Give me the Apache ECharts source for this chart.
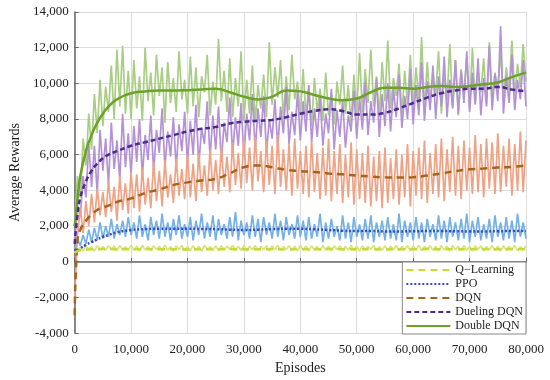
<!DOCTYPE html>
<html><head><meta charset="utf-8">
<script src="https://cdn.jsdelivr.net/npm/echarts@6/dist/echarts.min.js"></script>
<style>html,body{margin:0;padding:0;background:#fff}#c{width:550px;height:380px}</style>
</head><body><div id="c"></div>
<script>
// Raw episodes: every 500 episodes from 0 to 80000
var rawStep = 500;
var rawDouble = [2000,4800,3600,6900,5400,8300,6300,9400,7200,10200,7600,9800,8400,11000,8000,11900,8700,12100,8300,10700,8000,
11300,8600,10400,7900,12000,9000,10600,8200,11600,9300,10900,7800,11200,8900,10300,8400,11800,9100,10200,8300,
11500,8700,10900,8100,10400,9500,11600,8200,10100,8800,12500,9000,10700,8400,11400,8100,10300,8700,11800,7900,
10200,8300,11000,7800,9900,8600,10500,8100,12300,8800,10900,9200,11300,8000,10400,8500,11600,9100,10100,8200,
10800,8100,9800,7600,10300,8400,9700,7900,10600,8200,9500,7700,10100,8800,11000,8300,9900,7800,10500,8300,
11700,8400,10800,8900,11900,8700,10400,8100,11200,9000,12400,8600,10300,9300,11100,8200,10700,8800,11600,8500,
10900,9100,12600,8400,11200,8800,10500,9400,11800,8300,10600,9000,12200,8700,11300,8200,10800,9300,11500,8600,
12000,8900,10700,9500,11400,8800,12300,9200,10600,9700,11800,9000,10900,9600,12400,9300,11100,9800,12200,10100];
var rawDueling = [1000,3200,2500,4800,3600,6600,4200,6500,3800,7400,5100,6900,4300,7800,5200,6800,4600,8300,5300,7200,4900,
7600,5600,8000,4800,7100,5700,8200,5000,7400,6100,8600,5300,7300,5900,8100,5200,7700,6200,8400,5500,
7900,6000,8800,5400,7500,6600,9000,5800,8200,6300,8700,5600,7800,6700,9200,6000,8100,6500,8900,5900,
8300,6800,9400,6200,8600,7000,9300,6100,8000,6900,9100,6400,8700,7200,9800,6600,8400,7100,9500,6800,
9000,7300,9900,6700,8600,7000,9200,6500,8300,7200,9700,6300,8500,7000,9100,6400,8200,7300,9600,6900,
9200,7400,10100,7100,9000,7800,10300,7000,9400,7600,10000,7300,9700,8100,10500,7500,9300,8000,10800,7700,
9900,8200,11200,7900,10100,8500,11000,8000,10400,8700,11500,8100,10200,8600,11300,8300,10700,8900,11800,8400,
10600,8800,11400,8200,10300,8700,12100,8500,10500,9000,13200,8300,10400,8900,11600,8500,10200,9100,11300,8700];
var rawDQN = [-2000,1500,3000,1600,3400,2000,3800,2200,4100,2600,3900,2500,4500,2800,4200,2300,4800,2900,4400,2700,5000,
3000,4900,2800,5300,3200,4700,3000,5600,3400,5100,3100,5700,3600,4900,3300,5800,3700,5200,3500,6000,
3600,5500,3400,6100,3900,5400,3700,6300,4000,5700,3800,6500,4200,5900,3900,6700,4300,6100,4100,6900,
4400,6400,4000,7000,4500,6200,3900,6800,4300,6500,3800,7100,4200,6300,4000,6600,3700,6900,4100,6200,
3800,6500,3600,6800,3900,6100,3500,6400,3700,6900,3400,6200,3800,6600,3300,6000,3600,6700,3200,6300,
3500,6100,3300,6500,3100,5900,3400,6200,3000,6400,3300,5800,3500,6300,3200,6000,3600,6600,3100,6200,
3700,6400,3500,6800,3300,6100,3800,6600,3600,6900,3400,6300,3900,7000,3700,6500,3500,6800,4000,6400,
3800,7100,3900,6600,3600,6900,4100,6700,3800,7200,3900,6500,4200,6900,3700,6600,4000,7300,3900,6800];
var rawPPO = [700,1300,900,1500,1000,1800,1100,1900,1200,2200,1300,2000,1400,2400,1300,2100,1500,2300,1400,2500,1500,
2200,1300,2600,1400,2100,1200,2500,1500,2300,1300,2700,1400,2200,1200,2400,1500,2600,1300,2100,1400,
2500,1200,2300,1500,2700,1300,2200,1400,2600,1200,2400,1500,2100,1300,2500,1400,2800,1200,2300,1500,
2200,1300,2600,1400,2400,1100,2500,1500,2200,1300,2700,1400,2300,1200,2500,1500,2100,1300,2600,1400,
2300,1200,2500,1300,2100,1400,2700,1100,2200,1300,2400,1400,2000,1200,2600,1300,2200,1100,2500,1400,
2100,1200,2400,1300,2600,1100,2200,1400,2300,1200,2500,1300,2100,1200,2700,1100,2300,1400,2200,1200,
2500,1300,2200,1100,2400,1400,2100,1200,2600,1300,2300,1100,2500,1400,2200,1200,2400,1300,2700,1100,
2300,1400,2500,1200,2100,1300,2400,1100,2600,1400,2200,1200,2500,1300,2300,1100,2700,1400,2200,1300];
var rawQ = [500,600,800,600,900,700,850,600,900,700,850,650,900,700,880,620,900,680,850,650,920,
640,880,600,910,660,850,610,900,680,870,620,930,650,860,600,890,670,910,640,850,
620,900,660,870,600,920,680,850,630,890,610,900,650,870,690,920,620,860,640,900,
600,880,660,910,630,850,670,900,610,890,650,930,620,860,680,900,640,870,610,910,
650,880,600,900,670,860,630,920,640,870,610,890,680,900,620,850,660,910,630,880,
600,900,650,870,690,920,620,860,640,900,610,880,660,910,630,850,670,900,610,890,
650,930,620,860,680,900,640,870,610,910,650,880,600,900,670,860,630,920,640,870,
610,890,680,900,620,850,660,910,630,880,600,900,650,870,690,920,620,860,640,900];

// Smoothed curves
var smoothX = [0,500,1000,2000,3000,4000,5000,6000,7500,10000,12500,15000,17500,20000,22500,25000,27500,30000,32500,35000,37500,40000,42500,45000,47500,50000,52500,55000,57500,60000,62500,65000,67500,70000,72500,75000,77500,80000];
var smDouble = [2000,3500,4800,6200,7100,7800,8300,8700,9100,9450,9550,9600,9600,9620,9650,9700,9500,9250,9100,9250,9600,9550,9350,9150,9050,9150,9500,9750,9750,9700,9800,9850,9800,9850,9950,10050,10350,10600];
var smDueling = [1000,2600,3600,4500,5100,5500,5800,6000,6200,6500,6700,6900,7100,7300,7450,7550,7750,7850,7900,7950,8100,8300,8450,8550,8450,8250,8250,8350,8600,8900,9200,9450,9600,9700,9700,9800,9650,9550];
var smDQN = [-3000,1200,1800,2300,2650,2900,3050,3150,3350,3550,3850,4050,4300,4450,4550,4650,4950,5300,5400,5300,5150,5080,5030,4950,4900,4830,4780,4730,4720,4740,4830,4950,5080,5180,5230,5280,5320,5400];
var smPPO = [700,600,750,950,1100,1250,1400,1500,1650,1780,1830,1850,1850,1850,1840,1830,1800,1780,1800,1830,1850,1850,1820,1780,1740,1720,1720,1700,1700,1710,1720,1720,1710,1700,1700,1710,1720,1720];
var smQ = [500,600,650,680,700,700,710,710,700,700,710,700,700,690,700,700,710,700,700,700,690,700,700,710,700,700,700,690,700,700,710,700,700,700,710,700,700,710];

var legendNames = ['Q\u2212Learning','PPO','DQN','Dueling DQN','Double DQN'];
var yTicks = {min:-4000, max:14000, interval:2000};
var xTicks = {min:0, max:80000, interval:10000};

function rawPairs(arr){ return arr.map(function(v,i){ return [i*rawStep, v]; }); }
function smPairs(arr){ return arr.map(function(v,i){ return [smoothX[i], v]; }); }
function fmt(v){ return v.toLocaleString('en-US'); }

var serif = '"Liberation Serif","Times New Roman",serif';
var chart = echarts.init(document.getElementById('c'), null, {renderer:'canvas'});

function raw(name, arr, color){
  return {name:name, type:'line', data:rawPairs(arr), symbol:'none', silent:true,
    lineStyle:{color:color, width:1.7}, itemStyle:{color:color}, z:1};
}
function sm(name, arr, color, type, width){
  return {name:name, type:'line', data:smPairs(arr), symbol:'none', smooth:true,
    lineStyle:{color:color, width:width, type:type}, itemStyle:{color:color}, z:3};
}

chart.setOption({
  animation:false,
  backgroundColor:'#fff',
  grid:{left:65, right:24, top:12, bottom:45},
  legend:{
    data:legendNames, orient:'vertical', right:24, bottom:46,
    backgroundColor:'#fff', borderColor:'#888', borderWidth:1, padding:[2,3,2,3],
    itemWidth:44, itemHeight:12, itemGap:2,
    itemStyle:{opacity:0},
    textStyle:{fontFamily:serif, fontSize:12, color:'#222'}
  },
  xAxis:{
    type:'value', min:xTicks.min, max:xTicks.max, interval:xTicks.interval,
    name:'Episodes', nameLocation:'middle', nameGap:27,
    nameTextStyle:{fontFamily:serif, fontSize:14, color:'#222'},
    axisLine:{lineStyle:{color:'#666', width:1.5}},
    axisTick:{inside:true, length:4, lineStyle:{color:'#666'}},
    axisLabel:{fontFamily:serif, fontSize:13, color:'#222', formatter:fmt, margin:10},
    splitLine:{show:true, lineStyle:{color:'#dcdcdc', width:1}}
  },
  yAxis:{
    type:'value', min:yTicks.min, max:yTicks.max, interval:yTicks.interval,
    name:'Average Rewards', nameLocation:'middle', nameGap:50,
    nameTextStyle:{fontFamily:serif, fontSize:14, color:'#222'},
    axisLine:{show:true, lineStyle:{color:'#666', width:1.5}},
    axisTick:{show:true, inside:true, length:4, lineStyle:{color:'#666'}},
    axisLabel:{fontFamily:serif, fontSize:13, color:'#222', formatter:fmt, margin:6},
    splitLine:{show:true, lineStyle:{color:'#dcdcdc', width:1}}
  },
  series:[
    raw('rawDouble', rawDouble, '#a9cd85'),
    raw('rawDueling', rawDueling, '#b592d6'),
    raw('rawDQN', rawDQN, '#f0a284'),
    raw('rawPPO', rawPPO, '#74b2e6'),
    raw('rawQ', rawQ, '#d6e57a'),
    sm('Double DQN', smDouble, '#6da12a', 'solid', 2.5),
    sm('Dueling DQN', smDueling, '#4b2c8c', [5,3], 2.5),
    sm('DQN', smDQN, '#a5641c', [7,5], 2.5),
    sm('PPO', smPPO, '#3b48c4', [2,2], 2.5),
    sm('Q\u2212Learning', smQ, '#c9d93a', [7,5], 2.5)
  ]
});
</script></body></html>
